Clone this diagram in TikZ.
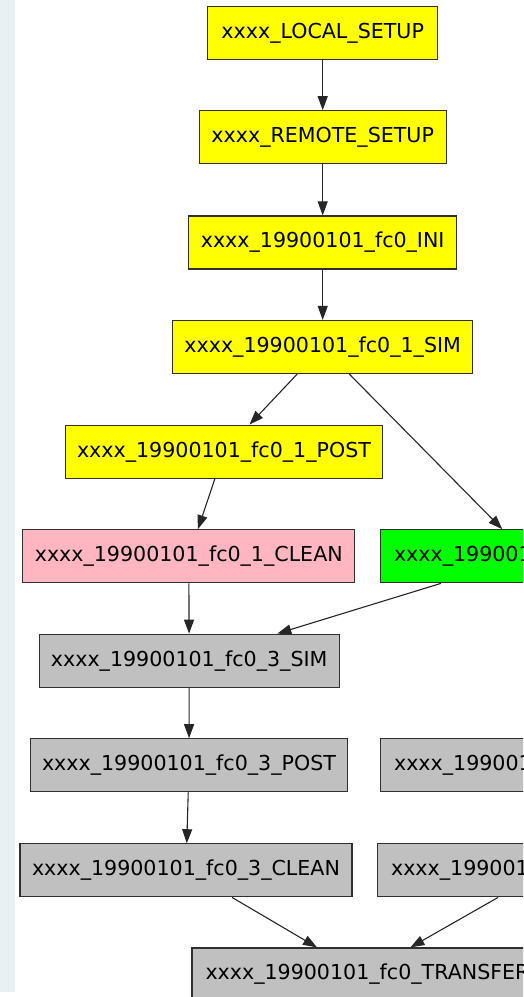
\documentclass[tikz,border=0pt]{standalone}
\usepackage{fontspec}
\setmainfont{DejaVu Sans}
\usetikzlibrary{arrows.meta}
\definecolor{strip}{HTML}{E8F0F4}
\definecolor{jyellow}{HTML}{FFFF00}
\definecolor{jpink}{HTML}{FFB6C1}
\definecolor{jgreen}{HTML}{00FF00}
\definecolor{jgrey}{HTML}{C0C0C0}
\definecolor{jborder}{HTML}{303030}
\tikzset{
  job/.style={draw=jborder, line width=1.2pt, minimum height=53pt, inner xsep=11.5pt,
    font=\fontsize{20.6}{24}\selectfont, text=black},
  cutjob/.style={job, align=left, inner xsep=13.5pt},
  link/.style={draw=black!85, line width=1.1pt, -{Triangle[length=14pt,width=10pt]}}
}
\begin{document}
\begin{tikzpicture}[x=1pt,y=-1pt]
\useasboundingbox (0,0) rectangle (523,997);
\clip (0,0) rectangle (523,997);
\fill[strip] (0,0) rectangle (15,992);

\node[job, fill=jyellow, minimum width=230pt] (ls) at (322.7,33.3) {xxxx\_LOCAL\_SETUP};
\node[job, fill=jyellow, minimum width=247pt] (rs) at (322.7,137.3) {xxxx\_REMOTE\_SETUP};
\node[job, fill=jyellow, minimum width=268pt] (ini) at (322.7,242.5) {xxxx\_19900101\_fc0\_INI};
\node[job, fill=jyellow, minimum width=300pt] (s1) at (322.7,347) {xxxx\_19900101\_fc0\_1\_SIM};
\node[job, fill=jyellow, minimum width=317pt] (p1) at (224,451.7) {xxxx\_19900101\_fc0\_1\_POST};
\node[job, fill=jpink, minimum width=332pt] (c1) at (188.8,556.3) {xxxx\_19900101\_fc0\_1\_CLEAN};
\node[cutjob, fill=jgreen, text width=270pt] (s2) at (529,556.3) {xxxx\_199001};
\node[job, fill=jgrey, minimum width=300pt] (s3) at (189.2,660.7) {xxxx\_19900101\_fc0\_3\_SIM};
\node[job, fill=jgrey, minimum width=317pt] (p3) at (189,765.3) {xxxx\_19900101\_fc0\_3\_POST};
\node[cutjob, fill=jgrey, text width=303pt] (p2) at (545.6,765.3) {xxxx\_199001};
\node[job, fill=jgrey, minimum width=332pt] (c3) at (186,870.3) {xxxx\_19900101\_fc0\_3\_CLEAN};
\node[cutjob, fill=jgrey, text width=309pt] (c2) at (545.6,870.3) {xxxx\_199001};
\node[cutjob, fill=jgrey, text width=315pt] (tr) at (363,974.5) {xxxx\_19900101\_fc0\_TRANSFER};

\draw[link] (ls) -- (rs);
\draw[link] (rs) -- (ini);
\draw[link] (ini) -- (s1);
\draw[link] (s1) -- (p1);
\draw[link] (s1) -- (s2);
\draw[link] (p1) -- (c1);
\draw[link] (c1) -- (s3);
\draw[link] (s2) -- (s3);
\draw[link] (s3) -- (p3);
\draw[link] (p3) -- (c3);
\draw[link] (c3) -- (tr);
\draw[link] (c2) -- (tr);
\end{tikzpicture}
\end{document}
